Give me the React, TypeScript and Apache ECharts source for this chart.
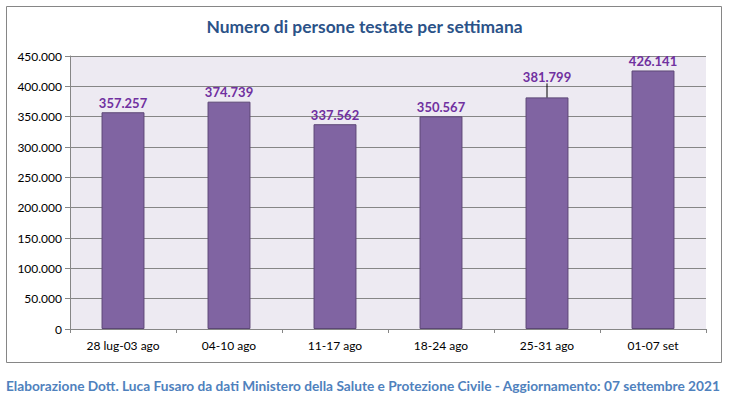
import React, { useEffect, useRef } from "react";
import * as echarts from "echarts";

const categories = ["28 lug-03 ago", "04-10 ago", "11-17 ago", "18-24 ago", "25-31 ago", "01-07 set"];
const values = [357257, 374739, 337562, 350567, 381799, 426141];
const movedLabelIndex = 4;
const titleText = "Numero di persone testate per settimana";
const footerText =
  "Elaborazione Dott. Luca Fusaro da dati Ministero della Salute e Protezione Civile - Aggiornamento: 07 settembre 2021";

const fmt = (v: number) => {
  const s = Math.round(v).toString();
  return s.replace(/\B(?=(\d{3})+(?!\d))/g, ".");
};

export default function App() {
  const ref = useRef<HTMLDivElement>(null);
  useEffect(() => {
    if (!ref.current) return;
    const chart = echarts.init(ref.current, null, { renderer: "svg" });
    const font = "Lato, 'Noto Sans', sans-serif";
    chart.setOption({
      animation: false,
      backgroundColor: "#ffffff",
      textStyle: { fontFamily: font },
      title: {
        text: titleText,
        left: "center",
        top: 13,
        textStyle: { color: "#2B5288", fontSize: 17.4, fontWeight: "bold", fontFamily: font },
      },
      graphic: [
        {
          type: "rect",
          shape: { x: 6.5, y: 6.5, width: 715, height: 356 },
          style: { fill: "none", stroke: "#868686", lineWidth: 1 },
          silent: true,
          z: -1,
        },
        {
          type: "rect",
          shape: { x: 70, y: 56, width: 636, height: 273 },
          style: { fill: "#EDEAF2" },
          silent: true,
          z: -2,
        },
        {
          type: "text",
          left: 6,
          top: 378,
          style: {
            text: footerText,
            fill: "#4F81BD",
            font: `bold 13.7px ${font}`,
          },
        },
      ],
      grid: { left: 70, right: 23, top: 56, bottom: 70, containLabel: false },
      xAxis: {
        type: "category",
        data: categories,
        boundaryGap: true,
        axisLine: { lineStyle: { color: "#868686" } },
        axisTick: { show: true, length: 4, lineStyle: { color: "#868686" } },
        axisLabel: { color: "#000000", fontSize: 12, margin: 10, fontFamily: font },
      },
      yAxis: {
        type: "value",
        min: 0,
        max: 450000,
        interval: 50000,
        axisLine: { show: true, lineStyle: { color: "#868686" } },
        axisTick: { show: true, length: 5, lineStyle: { color: "#868686" } },
        splitLine: { lineStyle: { color: "#868686" } },
        axisLabel: {
          color: "#000000",
          fontSize: 12,
          margin: 8,
          fontFamily: font,
          formatter: (v: number) => fmt(v),
        },
      },
      series: [
        {
          type: "bar",
          data: values.map((v, i) =>
            i === movedLabelIndex
              ? { value: v, labelLine: { show: true, lineStyle: { color: "#000000", width: 1 } } }
              : { value: v }
          ),
          barWidth: "40.5%",
          itemStyle: { color: "#8064A2", borderColor: "#5C4776", borderWidth: 1 },
          label: {
            show: true,
            position: "top",
            distance: 3,
            color: "#7030A0",
            fontWeight: "bold",
            fontSize: 13,
            fontFamily: font,
            formatter: (p: any) => fmt(p.value),
          },
          labelLayout: (p: any) => (p.dataIndex === movedLabelIndex ? { dy: -11 } : {}),
          labelLine: { show: false },
        },
      ],
    });
    return () => chart.dispose();
  }, []);
  return <div ref={ref} style={{ width: 729, height: 399, position: "absolute", left: 0, top: 0 }} />;
}
